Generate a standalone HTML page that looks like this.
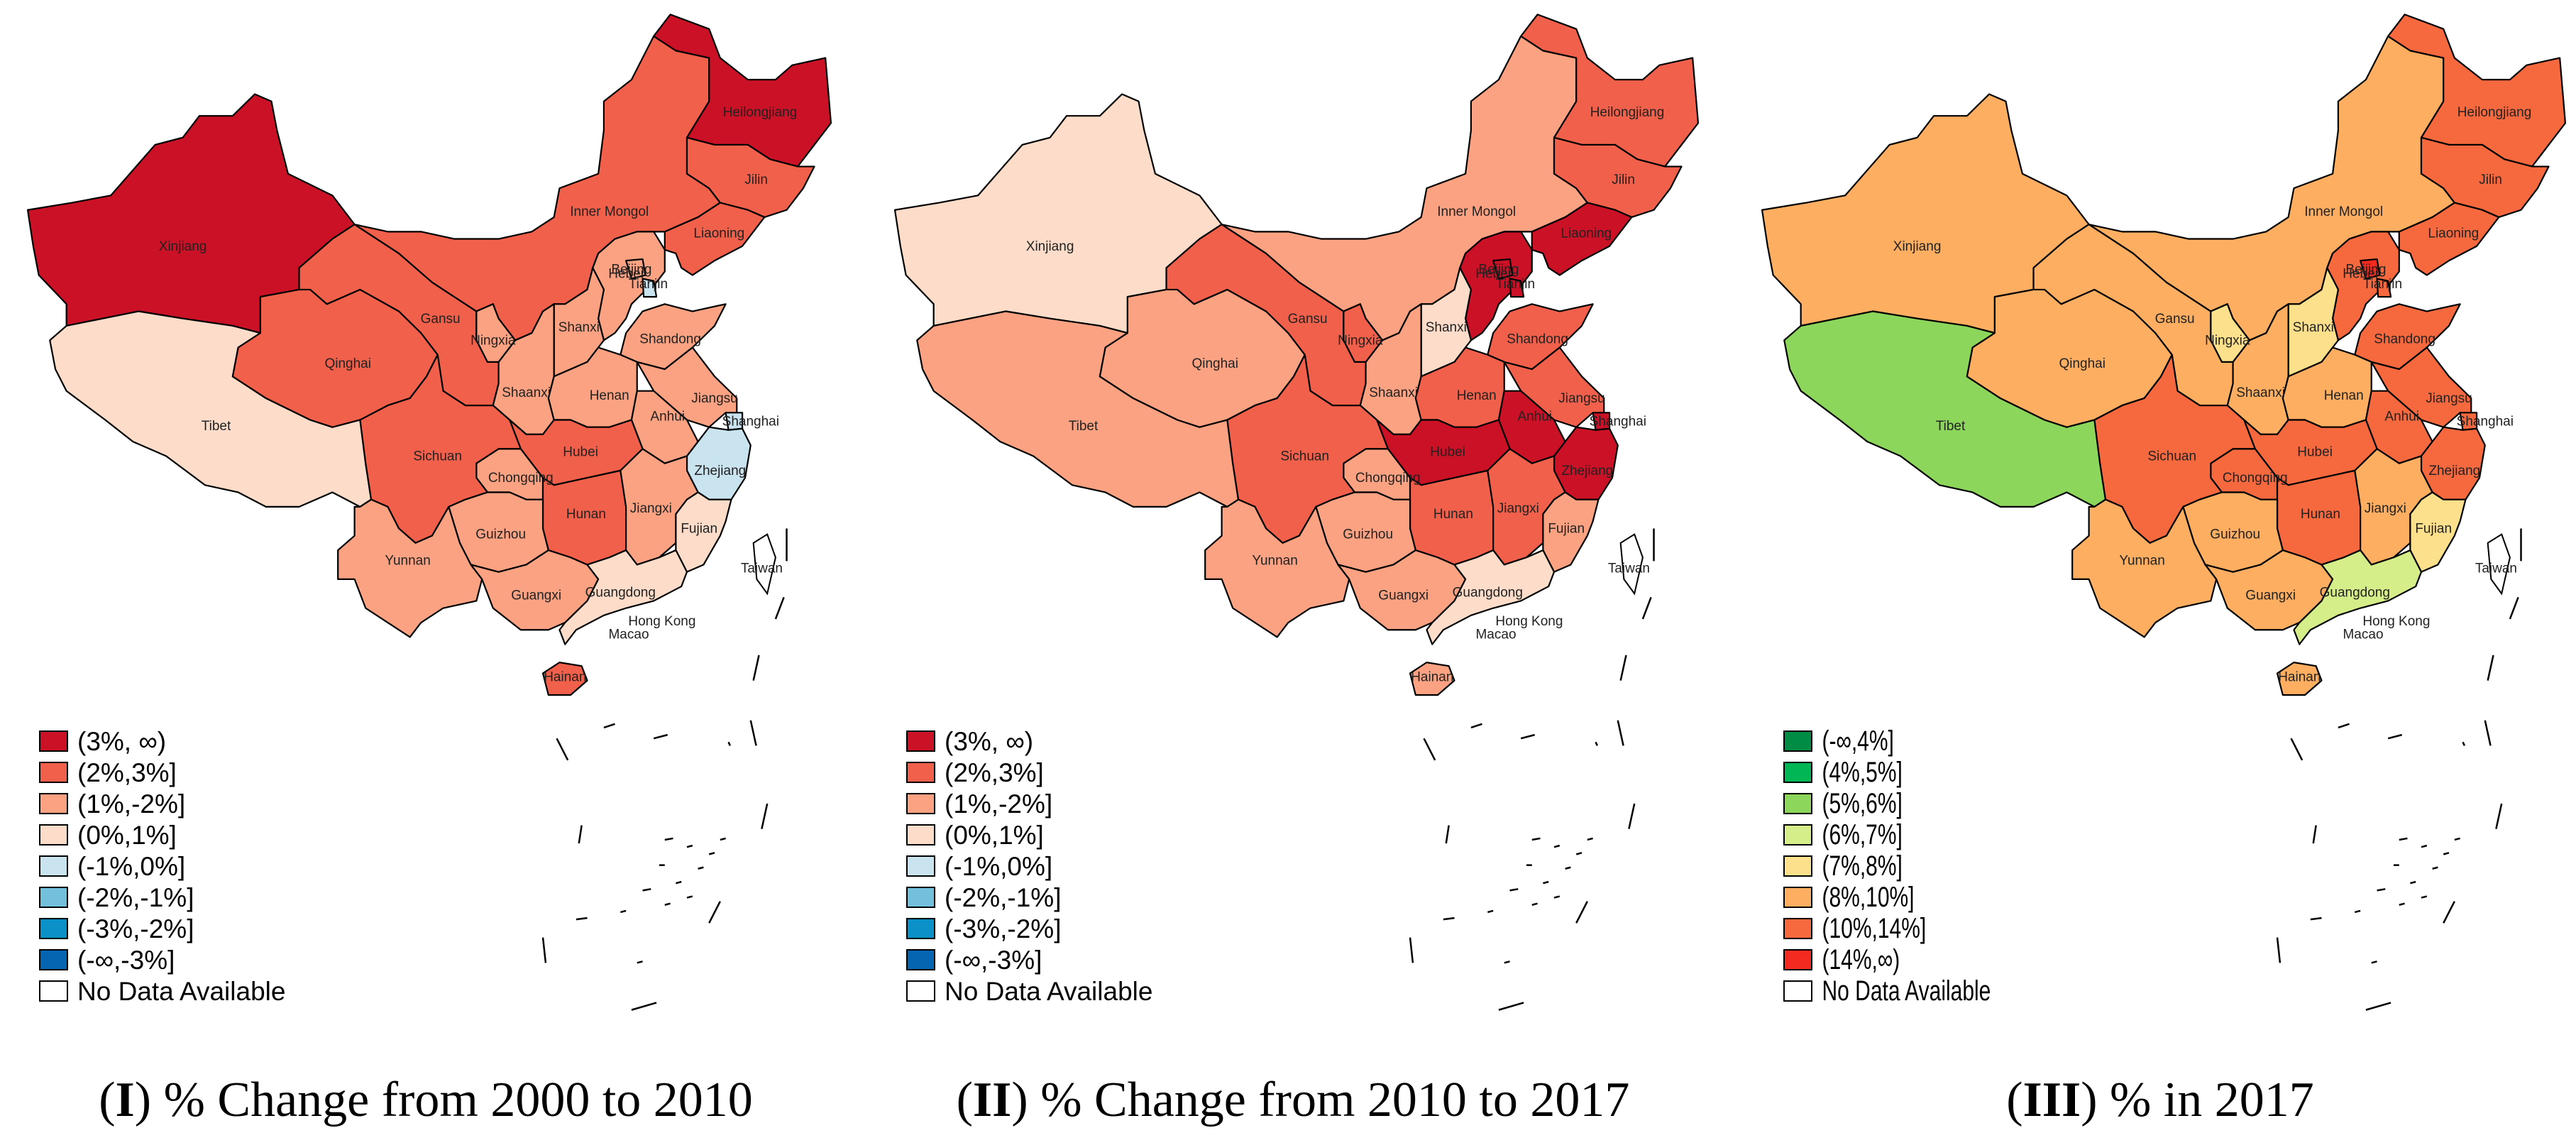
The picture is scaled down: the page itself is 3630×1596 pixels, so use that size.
<!DOCTYPE html>
<html><head><meta charset="utf-8"><style>
html,body{margin:0;padding:0;background:#fff;}
svg{display:block;}
</style></head><body>
<svg id="fig" width="3630" height="1596" viewBox="0 0 3630 1596" xmlns="http://www.w3.org/2000/svg"></svg>
<script>
// ---- data ----
const provinces = ["Xinjiang","Tibet","Qinghai","Gansu","Inner Mongol","Heilongjiang","Jilin","Liaoning","Hebei","Beijing","Tianjin","Shanxi","Shaanxi","Ningxia","Shandong","Henan","Jiangsu","Anhui","Shanghai","Zhejiang","Hubei","Chongqing","Sichuan","Hunan","Jiangxi","Fujian","Guizhou","Yunnan","Guangxi","Guangdong","Hainan"];
// % change 2000-2010
const change2000to2010 = [3.5,0.5,2.5,2.5,2.5,3.5,2.5,2.5,1.5,1.5,-0.5,1.5,1.5,1.5,1.5,1.5,1.5,1.5,-0.5,-0.5,2.5,1.5,2.5,2.5,1.5,0.5,1.5,1.5,1.5,0.5,2.5];
// % change 2010-2017
const change2010to2017 = [0.5,1.5,1.5,2.5,1.5,2.5,2.5,3.5,3.5,3.5,3.5,0.5,1.5,2.5,2.5,2.5,2.5,3.5,3.5,3.5,3.5,1.5,2.5,2.5,2.5,1.5,1.5,1.5,1.5,0.5,1.5];
// % in 2017
const share2017 = [9,5.5,9,9,9,12,12,12,12,15,12,7.5,9,7.5,12,9,12,12,12,12,12,12,12,12,9,7.5,9,9,9,6.5,9];
const changeLabels = ["(3%, \u221e)","(2%,3%]","(1%,-2%]","(0%,1%]","(-1%,0%]","(-2%,-1%]","(-3%,-2%]","(-\u221e,-3%]","No Data Available"];
const changeColors = ["#cb1126","#f1604b","#fba283","#fddcca","#c9e3ef","#73c0dd","#0b90c8","#0565b0","#ffffff"];
const levelLabels = ["(-\u221e,4%]","(4%,5%]","(5%,6%]","(6%,7%]","(7%,8%]","(8%,10%]","(10%,14%]","(14%,\u221e)","No Data Available"];
const levelColors = ["#008c44","#00b655","#8cd65c","#d6ee8a","#fde08c","#fdae61","#f6693f","#f22a20","#ffffff"];
const changeBreaks = [3,2,1,0,-1,-2,-3];
const levelBreaks = [4,5,6,7,8,10,14];
const captions = [["I"," % Change from 2000 to 2010"],["II"," % Change from 2010 to 2017"],["III"," % in 2017"]];

function binChange(v){for(let i=0;i<changeBreaks.length;i++){if(v>changeBreaks[i])return i;}return 7;}
function binLevel(v){for(let i=0;i<levelBreaks.length;i++){if(v<=levelBreaks[i])return i;}return 7;}

// ---- geometry (map outline in local map units) ----
const shapes = {
"Xinjiang":"50,290 130,280 200,270 280,200 330,190 360,160 420,160 460,130 490,140 500,180 520,240 600,270 640,310 600,330 540,370 540,400 470,410 470,460 420,450 330,440 250,430 120,450 120,420 70,380 60,340",
"Tibet":"120,450 250,430 330,440 420,450 470,460 430,480 420,520 480,550 560,580 600,590 650,580 660,640 670,690 650,700 600,680 540,700 480,700 430,680 370,670 300,630 240,610 190,580 120,540 100,510 90,470",
"Qinghai":"470,410 540,400 560,400 590,420 650,400 720,430 760,460 790,490 770,520 740,550 700,560 650,580 600,590 560,580 480,550 420,520 430,480 470,460",
"Gansu":"540,370 600,330 640,310 660,320 720,350 780,390 840,420 860,430 860,470 880,500 900,500 900,530 890,560 840,560 800,540 790,490 760,460 720,430 650,400 590,420 560,400 540,400",
"Inner Mongol":"640,310 700,320 760,320 820,330 900,330 960,320 1000,300 1010,260 1080,240 1090,180 1090,140 1140,110 1180,50 1220,70 1280,80 1280,140 1240,190 1240,240 1280,260 1300,280 1260,300 1200,320 1180,320 1150,320 1110,330 1080,350 1070,370 1060,400 1020,420 1000,420 980,430 960,460 930,470 900,440 890,420 860,430 840,420 780,390 720,350 660,320",
"Heilongjiang":"1180,50 1210,20 1280,40 1300,80 1350,110 1400,110 1430,90 1490,80 1500,170 1470,200 1440,230 1390,220 1350,200 1290,200 1240,190 1280,140 1280,80 1220,70",
"Jilin":"1240,190 1290,200 1350,200 1390,220 1440,230 1470,230 1450,260 1420,290 1380,300 1350,290 1300,280 1280,260 1240,240",
"Liaoning":"1200,320 1260,300 1300,280 1350,290 1380,300 1340,340 1290,360 1250,380 1230,370 1220,350 1200,345",
"Hebei":"1080,350 1110,330 1150,320 1180,320 1200,345 1200,375 1180,395 1160,405 1140,420 1130,440 1110,460 1090,470 1080,440 1090,400 1070,370",
"Beijing":"1130,360 1160,358 1165,380 1140,385",
"Tianjin":"1160,385 1180,388 1185,410 1162,410",
"Shanxi":"1000,420 1020,420 1060,400 1070,370 1090,400 1080,440 1090,470 1080,480 1060,500 1030,510 1000,520 1000,470",
"Shaanxi":"930,470 960,460 980,430 1000,420 1000,520 990,550 1000,580 980,600 950,600 920,580 890,560 900,530 900,500",
"Ningxia":"860,430 890,420 900,440 930,470 900,500 880,500 860,470",
"Shandong":"1130,460 1160,430 1200,420 1250,430 1310,420 1290,450 1250,480 1200,510 1150,500 1120,490",
"Henan":"1000,520 1030,510 1060,500 1080,480 1120,490 1150,500 1150,540 1140,580 1100,590 1060,590 1030,580 1000,580 990,550",
"Jiangsu":"1200,510 1250,480 1290,520 1330,550 1330,575 1310,570 1280,590 1240,580 1210,560 1180,540 1150,500",
"Anhui":"1150,540 1180,540 1210,560 1240,580 1260,610 1240,630 1200,640 1160,620 1140,580",
"Shanghai":"1310,570 1340,570 1340,592 1315,594",
"Zhejiang":"1240,630 1260,610 1280,590 1315,594 1340,592 1355,615 1345,660 1320,690 1280,690 1260,680 1240,650",
"Hubei":"920,580 950,600 980,600 1000,580 1030,580 1060,590 1100,590 1140,580 1160,620 1120,650 1060,660 1000,670 980,660 960,640 940,620",
"Chongqing":"860,640 900,620 940,620 960,640 980,660 980,690 950,690 920,680 880,680 860,660",
"Sichuan":"650,580 700,560 740,550 770,520 790,490 800,540 840,560 890,560 920,580 940,620 900,620 860,640 860,660 880,680 840,690 810,700 780,740 750,750 720,730 700,700 670,690 660,640",
"Hunan":"980,690 980,660 1000,670 1060,660 1120,650 1130,700 1130,760 1100,770 1060,780 1030,770 990,760 980,730",
"Jiangxi":"1120,650 1160,620 1200,640 1240,630 1240,650 1260,680 1240,690 1220,710 1220,750 1190,770 1150,780 1130,760 1130,700",
"Fujian":"1220,710 1240,690 1260,680 1280,690 1320,690 1310,720 1300,740 1270,780 1240,790 1220,760",
"Guizhou":"810,700 840,690 880,680 920,680 950,690 980,690 980,730 990,760 950,780 900,790 850,780 830,750",
"Yunnan":"640,700 650,700 670,690 700,700 720,730 750,750 780,740 810,700 830,750 850,780 870,800 860,830 800,840 760,860 740,880 700,860 660,840 640,800 610,800 610,760 640,740",
"Guangxi":"850,780 900,790 950,780 990,760 1030,770 1060,780 1080,800 1060,830 1020,860 990,870 940,870 890,840 870,800",
"Guangdong":"1060,780 1100,770 1130,760 1150,780 1190,770 1220,760 1240,790 1230,810 1180,830 1130,840 1090,850 1040,870 1020,890 1010,870 1020,860 1060,830 1080,800",
"Hainan":"980,930 1010,915 1050,920 1060,940 1030,960 990,960"
};
const labelPos = {"Xinjiang":[330,340],"Tibet":[390,588],"Qinghai":[628,502],"Gansu":[795,440],"Inner Mongol":[1100,292],"Heilongjiang":[1372,155],"Jilin":[1365,248],"Liaoning":[1298,322],"Hebei":[1130,378],"Beijing":[1140,372],"Tianjin":[1170,392],"Shanxi":[1045,452],"Shaanxi":[950,542],"Ningxia":[890,470],"Shandong":[1210,468],"Henan":[1100,546],"Jiangsu":[1290,550],"Anhui":[1205,575],"Shanghai":[1355,582],"Zhejiang":[1300,650],"Hubei":[1048,624],"Chongqing":[940,660],"Sichuan":[790,630],"Hunan":[1058,710],"Jiangxi":[1175,702],"Fujian":[1262,730],"Guizhou":[904,738],"Yunnan":[736,774],"Guangxi":[968,822],"Guangdong":[1120,818],"Hainan":[1020,935],"Taiwan":[1375,785],"Hong Kong":[1195,858],"Macao":[1135,876]};
const SX = 1210/1550, SY = 1596/1565;
const panelX = [0,1222,2444];
const legendX = [56,1278,2514];

const NS = "http://www.w3.org/2000/svg";
const svg = document.getElementById("fig");
function mk(tag, attrs, parent){const e=document.createElementNS(NS,tag);for(const k in attrs)e.setAttribute(k,attrs[k]);(parent||svg).appendChild(e);return e;}

const series = [change2000to2010, change2010to2017, share2017];
for(let p=0;p<3;p++){
  const panel = mk("g",{transform:`translate(${panelX[p]},0)`});
  
  
  const map = mk("g",{transform:`scale(${SX},${SY})`},panel);
  provinces.forEach((name,i)=>{
    const v = series[p][i];
    const col = p<2 ? changeColors[binChange(v)] : levelColors[binLevel(v)];
    const poly = mk("polygon",{points:shapes[name],fill:col,stroke:"#000","stroke-width":2.2,"stroke-linejoin":"round","vector-effect":"non-scaling-stroke"},map);
    
    
  });
  // Taiwan & islands (no data)
  const tw = mk("polygon",{points:"1360,750 1385,738 1400,770 1385,820 1366,800",fill:"#fff",stroke:"#000","stroke-width":2,"vector-effect":"non-scaling-stroke"},map);
  
  
  const isl = mk("g",{stroke:"#000","stroke-width":2.5,fill:"none","vector-effect":"non-scaling-stroke"},map);
  
  
  ["1420,730 1420,775","1415,825 1400,855","1370,905 1360,940","1355,995 1365,1030","1005,1020 1025,1050","1050,1140 1045,1165","1385,1110 1375,1145","1300,1245 1280,1275","980,1295 985,1330","1140,1395 1185,1385","1090,1005 1110,1000","1180,1020 1205,1015","1315,1025 1318,1030","1200,1160 1215,1158","1240,1170 1250,1168","1280,1180 1290,1178","1260,1200 1270,1198","1220,1220 1230,1218","1300,1160 1310,1158","1190,1195 1200,1195","1040,1270 1060,1268","1120,1260 1130,1258","1200,1250 1210,1248","1240,1240 1250,1238","1150,1330 1160,1328","1160,1230 1175,1228"].forEach(s=>{
    mk("polyline",{points:s,"vector-effect":"non-scaling-stroke"},isl);
  });
  // labels
  const lab = mk("g",{"font-family":"Liberation Sans, sans-serif","font-size":"19","fill":"#222","text-anchor":"middle"},panel);
  for(const n in labelPos){
    const t = mk("text",{x:(labelPos[n][0]*SX).toFixed(1),y:((labelPos[n][1]+6)*SY).toFixed(1)},lab);
    t.textContent = n;
    
    
  }
  // legend
  const labels = p<2 ? changeLabels : levelLabels;
  const colors = p<2 ? changeColors : levelColors;
  const leg = mk("g",{transform:`translate(${legendX[p]-panelX[p]},0)`},panel);
  
  
  labels.forEach((l,i)=>{
    const y = 1030+i*44;
    const r = mk("rect",{x:0,y:y,width:39,height:28,fill:colors[i],stroke:"#000","stroke-width":2},leg);
    
    
    const t = mk("text",{x:53,y:y+27,"font-family":"Liberation Sans, sans-serif","font-size":p<2?"37":"40","fill":"#000",transform:p<2?"":`translate(${53*0.25},0) scale(0.75,1) translate(0,0)`},leg);
    if(p===2){t.setAttribute("x",53/0.75-17);}
    t.textContent = l;
    
    
  });
  // caption
  const cap = mk("text",{x:600,y:1572,"text-anchor":"middle","font-family":"Liberation Serif, serif","font-size":"70","fill":"#000"},panel);
  
  
  const ts1 = mk("tspan",{},cap); ts1.textContent="(";
  const ts2 = mk("tspan",{"font-weight":"bold"},cap); ts2.textContent=captions[p][0];
  const ts3 = mk("tspan",{},cap); ts3.textContent=")"+captions[p][1];
}
</script>
</body></html>
